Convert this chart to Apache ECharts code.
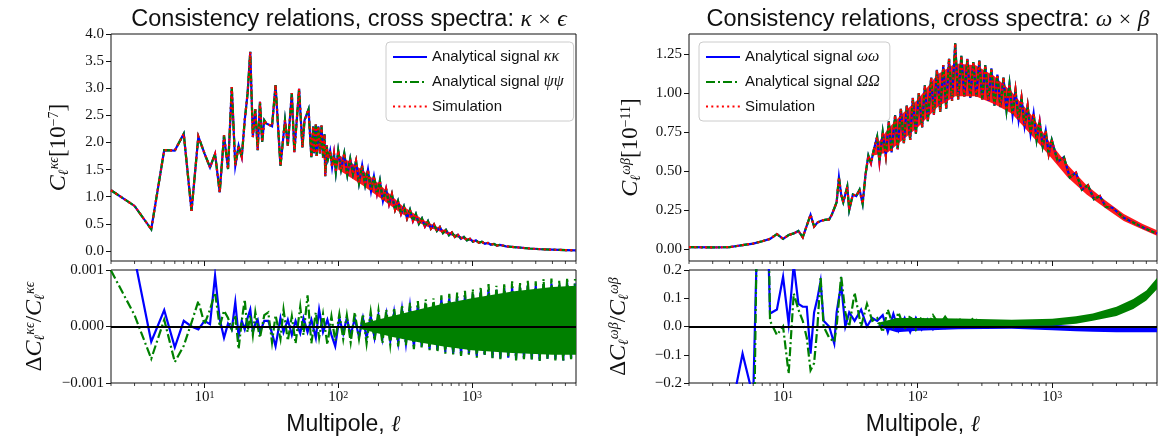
<!DOCTYPE html>
<html><head><meta charset="utf-8">
<script src="https://cdn.jsdelivr.net/npm/echarts@6/dist/echarts.min.js"></script>
<style>html,body{margin:0;padding:0;background:#fff}#c{width:1165px;height:439px}</style>
</head><body><div id="c"></div><script>
// ---------------- DATA ----------------
// Top-left: C_l^{kappa eps} in units of 1e-7 (the three curves overlap within the picture)
const tlL = [2,3,4,5,6,7,8,9,10,11,12,13,14,15,16,17,18,19,20,21,22,23,24,25,26,27,28,29,30,
  32,34,37,40,42,45,47,51,54,56,60,63,
  65,66,68,69,71,73,75,77,79,80,82,84,87,90,93,96,
  100,105,111,117,123,129,136,143,151,159,167,176,185,195,205,216,228,240,252,266,280,295,310,327,344,362,381,401,423,445,469,493,520,547,576,607,639,673,708,746,785,827,871,917,966,1017,1071,1128,1187,1250,1317,1386,1460,1537,1619,
  1800,2200,2700,3300,4000,5000,6000];
const tlC = [1.12,0.83,0.40,1.86,1.85,2.16,0.74,2.11,1.80,1.54,1.79,1.08,2.13,1.51,3.02,1.57,1.94,1.73,2.41,2.90,3.67,2.10,2.61,1.86,2.75,2.01,2.41,2.35,2.38,
  2.30,3.06,1.57,2.41,1.94,2.91,1.82,2.99,1.91,2.41,2.61,1.73,
  2.30,1.80,2.33,1.75,2.30,1.80,2.31,1.72,2.15,1.38,1.95,1.70,1.85,1.55,1.80,1.45,
  1.85,1.50,1.80,1.40,1.70,1.42,1.66,1.25,1.58,1.22,1.50,1.10,1.38,1.05,1.30,0.92,1.15,0.86,1.05,0.76,0.92,0.68,0.82,0.60,0.76,0.55,0.68,0.50,0.60,0.45,0.55,0.41,0.49,0.37,0.44,0.33,0.39,0.29,0.34,0.26,0.30,0.225,0.26,0.195,0.225,0.17,0.195,0.15,0.17,0.132,0.148,0.115,0.13,0.10,0.112,
  0.085,0.065,0.045,0.032,0.024,0.016,0.011];
const tlBandL  = [100,150,200,300,450,600,800,1000,1300,1600];
const tlBandLo = [1.50,1.22,1.00,0.68,0.46,0.34,0.24,0.18,0.13,0.10];
const tlBandHi = [1.78,1.50,1.25,0.84,0.55,0.40,0.28,0.21,0.15,0.115];

// Top-right: C_l^{omega beta} in units of 1e-11
const trL = [2,3,4,5,6,7,8,9,10,11,12,13,14,15,16,17,18,19,20,21,22,23,24,25,26,27,28,
  30,31,33,35,37,39,41,43,45,
  47,50,52,55,58,61,64,68,71,75,79,83,88,92,97,102,108,113,119,126,132,139,147,155,163,171,180,190,200,211,222,234,246,259,273,287,302,318,335,353,372,391,412,434,457,481,507,533,562,591,623,656,690,727,765,806,849,894,941,991,
  1100,1220,1350,1500,1660,1840,2040,2260,2500,2800,3400,4000,4700,5400,6000];
const trC = [0.012,0.010,0.012,0.025,0.035,0.050,0.065,0.096,0.065,0.090,0.100,0.116,0.075,0.150,0.220,0.145,0.170,0.180,0.185,0.188,0.190,0.220,0.260,0.300,0.460,0.350,0.300,
  0.400,0.250,0.350,0.340,0.380,0.290,0.480,0.600,0.550,
  0.63,0.72,0.56,0.75,0.60,0.82,0.62,0.86,0.64,0.90,0.68,0.92,0.70,0.97,0.74,1.00,0.78,1.05,0.82,1.10,0.86,1.15,0.88,1.18,0.90,1.22,0.95,1.32,0.96,1.24,0.98,1.22,0.97,1.20,0.98,1.21,0.96,1.18,0.95,1.16,0.92,1.12,0.91,1.10,0.89,1.06,0.86,1.02,0.83,0.97,0.79,0.92,0.74,0.87,0.70,0.82,0.66,0.76,0.61,0.70,
  0.56,0.59,0.46,0.49,0.38,0.41,0.32,0.34,0.27,0.265,0.20,0.17,0.14,0.115,0.10];
const trBandL  = [47,60,75,100,140,190,270,370,500,700,950,1300,1800,2500,3400,4700,6000];
const trBandLo = [0.60,0.62,0.69,0.78,0.91,0.98,0.98,0.93,0.87,0.73,0.60,0.46,0.35,0.26,0.18,0.125,0.085];
const trBandHi = [0.64,0.77,0.86,0.96,1.12,1.19,1.18,1.11,1.01,0.86,0.69,0.54,0.41,0.31,0.225,0.16,0.12];

// Bottom-left: Delta C / C in units of 1e-3
const blL      = [2,3,4,5,6,7,8,9,10,11,12,13,14,15,16,17,18,19,20,21,22,23,24,25,26,28];
const blBlueV  = [2.5,1.21,-0.27,0.29,-0.37,0.10,0.0,-0.05,0.10,0.04,0.90,0.13,-0.20,0.05,-0.05,0.43,-0.17,0.10,-0.05,0.15,0.30,-0.10,0.05,0.12,-0.10,0.10];
const blGreenV = [0.99,0.20,-0.57,0.12,-0.63,-0.34,0.07,0.45,0.04,0.30,0.60,0.0,0.28,0.15,-0.05,0.20,-0.40,0.10,0.48,-0.10,0.20,-0.15,0.25,0.0,-0.20,0.20];
const blNoiseL = [30,32,34,37,39,42,45,48,52,55,59,63,68,72,77,83,89,95,102,109,116,124,133,143,153,163,175,187,200,214,229,245,262,281,300,321,344,368,394,421,451,482,516,552,591,632,677,724,775,829,887,949,1016,1087,1163,1244,1331,1425,1524,1631,1745,1868,1998,2138,2288,2448,2619,2803,2999,3209,3433,3674,3931,4206,4500,4815,5152,5513,5899];
const blGreenNoise = [0.25,-0.28,0.20,-0.22,0.30,-0.25,0.18,-0.30,0.35,-0.15,0.55,-0.30,0.25,-0.20,0.22,-0.32,0.18,-0.25,0.22,-0.22,0.20,-0.28,0.25,-0.22,0.22,-0.30,0.26,-0.25,0.28,-0.30,0.30,-0.32,0.33,-0.35,0.38,-0.33,0.42,-0.40,0.45,-0.38,0.48,-0.42,0.50,-0.45,0.55,-0.48,0.58,-0.50,0.60,-0.52,0.63,-0.50,0.66,-0.55,0.70,-0.52,0.75,-0.56,0.72,-0.58,0.76,-0.55,0.80,-0.60,0.78,-0.58,0.82,-0.60,0.80,-0.62,0.84,-0.58,0.85,-0.60,0.82,-0.62,0.86,-0.58,0.84];
const blBlueNoise  = [0.10,-0.12,-0.35,0.15,-0.10,0.12,-0.15,0.10,-0.12,0.15,-0.10,0.12,-0.20,0.30,-0.10,0.12,-0.15,-0.35,0.15,-0.12,0.15,-0.15,0.14,-0.18,0.15,-0.20,0.18,-0.20,0.20,-0.22,0.22,-0.25,0.25,-0.28,0.30,
  -0.30,0.35,-0.35,0.38,-0.35,0.40,-0.40,0.42,-0.42,0.48,-0.45,0.50,-0.48,0.52,-0.50,0.55,-0.48,0.58,-0.52,0.62,-0.50,0.65,-0.55,0.65,-0.56,0.68,-0.55,0.70,-0.58,0.70,-0.56,0.74,-0.58,0.72,-0.60,0.75,-0.57,0.76,-0.58,0.74,-0.60,0.78,-0.56,0.76];
const blBandL  = [150,250,400,600,1000,2000,4000,6000];
const blBandLo = [-0.05,-0.18,-0.28,-0.35,-0.42,-0.47,-0.50,-0.50];
const blBandHi = [0.05,0.18,0.30,0.40,0.50,0.62,0.70,0.72];

// Bottom-right: Delta C / C
const brL      = [2,3,4,5,6,7,8,9,10,11,12,13,14,15,16,17,18,19,20,22,24,25,27,29,31,34,38,42,46,50];
const brBlueV  = [-0.6,-0.45,-0.33,-0.096,-0.25,1.07,0.046,0.06,0.176,0.01,0.22,0.08,0.07,0.07,-0.096,0.05,0.10,0.16,0.02,0.0,-0.06,0.05,0.15,0.0,0.05,0.02,0.06,0.0,0.03,0.02];
const brGreenV = [-0.8,-0.9,-0.7,-0.5,-0.6,1.75,0.02,-0.03,0.0,-0.167,0.117,0.06,0.02,-0.04,-0.155,-0.13,0.0,0.176,0.0,-0.04,-0.055,0.0,0.18,0.05,0.0,0.12,0.0,0.08,0.02,0.03];
const brNoiseL = [55,60,66,72,80,88,97,107,118,130,145,160,180,200,230,260,300];
const brGreenNoise = [-0.02,0.06,0.0,0.05,-0.01,0.04,-0.01,0.035,0.0,0.04,0.005,0.035,0.0,0.03,0.005,0.03,0.01];
const brBlueNoise  = [0.04,-0.02,0.045,-0.015,0.03,-0.02,0.03,-0.01,0.025,-0.01,0.02,-0.005,0.02,0.0,0.015,0.0,0.012];
const brBandL   = [50,70,100,200,500,1000,1500,2000,3000,4000,5000,6000];
const brGreenLo = [0.010,-0.005,-0.003,0.000,0.002,0.003,0.010,0.020,0.037,0.062,0.092,0.132];
const brGreenHi = [0.012,0.030,0.030,0.028,0.024,0.027,0.036,0.046,0.070,0.097,0.127,0.172];
const brBlueLo  = [0.000,-0.020,-0.015,-0.010,-0.008,-0.013,-0.017,-0.019,-0.020,-0.020,-0.020,-0.020];
const brBlueHi  = [0.002,0.030,0.025,0.020,0.012,0.006,0.002,0.000,-0.002,-0.002,-0.003,-0.003];

// tick values and labels
const xMajor = [10,100,1000];
const xMinor = [2,3,4,5,6,7,8,9,20,30,40,50,60,70,80,90,200,300,400,500,600,700,800,900,2000,3000,4000,5000,6000];
const tlTicks = [0,0.5,1,1.5,2,2.5,3,3.5,4];
const tlTickLabels = ['0.0','0.5','1.0','1.5','2.0','2.5','3.0','3.5','4.0'];
const trTicks = [0,0.25,0.5,0.75,1,1.25];
const trTickLabels = ['0.00','0.25','0.50','0.75','1.00','1.25'];
const blTicks = [-1,0,1];
const blTickLabels = ['\u22120.001','0.000','0.001'];
const brTicks = [-0.2,-0.1,0,0.1,0.2];
const brTickLabels = ['\u22120.2','\u22120.1','0.0','0.1','0.2'];

// ---------------- CHART ----------------
const SERIF = 'Liberation Serif', SANS = 'Liberation Sans';
const BLUE  = {color:'#0000ff', width:2.2, type:'solid'};
const GREEN = {color:'#008000', width:2.2, type:[9,3,2,3]};
const RED   = {color:'#ff0000', width:2.2, type:[2,3.3]};
const INK = '#111';

const pairs = (L, V) => L.map((l, i) => [l, V[i]]);
const concat = (a, b) => a.concat(b);

const grids = [
  {left:111, top:34,  width:465, height:227},
  {left:111, top:270, width:465, height:113},
  {left:689, top:34,  width:468, height:227},
  {left:689, top:270, width:468, height:113}
].map(g => Object.assign(g, {show:true, borderColor:INK, borderWidth:1, backgroundColor:'transparent'}));
const yMins = [-0.185, -1, -0.077, -0.2];
const yMaxs = [4.0, 1, 1.38, 0.2];

const mathRich = {
  c:  {fontFamily:SERIF, fontStyle:'italic', fontSize:24, color:INK},
  s:  {fontFamily:SERIF, fontStyle:'italic', fontSize:14, color:INK, verticalAlign:'bottom'},
  p:  {fontFamily:SERIF, fontStyle:'italic', fontSize:14, color:INK, verticalAlign:'top'},
  n:  {fontFamily:SERIF, fontSize:23, color:INK},
  q:  {fontFamily:SERIF, fontSize:14, color:INK, verticalAlign:'top'}
};

function xAxis(gi, showLabels) {
  return {type:'log', logBase:10, min:2, max:6000, gridIndex:gi, position:'bottom', splitLine:{show:false},
    axisLine:{show:false, onZero:false},
    axisTick:{show:true, inside:false, length:5, lineStyle:{color:INK, width:1}, customValues:xMajor},
    axisLabel:{show:true, customValues:xMajor, margin:7,
      formatter: v => showLabels ? '{b|10}{e|' + Math.round(Math.log10(v)) + '}' : '',
      rich:{b:{fontFamily:SERIF, fontSize:15, color:INK}, e:{fontFamily:SERIF, fontSize:10, color:INK, verticalAlign:'top'}}},
    name: showLabels ? 'Multipole, {l|\u2113}' : '', nameLocation:'middle', nameGap:30,
    nameTextStyle:{fontFamily:SANS, fontSize:23, color:INK,
      rich:{l:{fontFamily:SERIF, fontStyle:'italic', fontSize:23, color:INK}}}
  };
}

function yAxis(gi, ticks, labels, name, gap) {
  return {type:'value', gridIndex:gi, min:yMins[gi], max:yMaxs[gi], splitLine:{show:false},
    axisLine:{show:false, onZero:false},
    axisTick:{show:true, inside:false, length:5, lineStyle:{color:INK, width:1}, customValues:ticks},
    axisLabel:{customValues:ticks, margin:7, fontFamily:SERIF, fontSize:15, color:INK,
      formatter: v => { const i = ticks.findIndex(t => Math.abs(t - v) < 1e-9); return i >= 0 ? labels[i] : ''; }},
    name, nameLocation:'middle', nameRotate:90, nameGap:gap,
    nameTextStyle:{rich:mathRich}
  };
}

// minor ticks of the log axes (2..9 x 10^n), placed through the axis scale
function minorTicks(gi) {
  return {type:'custom', xAxisIndex:gi, yAxisIndex:gi, silent:true, clip:false, z:10, animation:false,
    data: xMinor.map(v => [v, yMins[gi]]),
    renderItem: (params, api) => {
      const c = api.coord([api.value(0), api.value(1)]);
      return {type:'line', shape:{x1:c[0], y1:c[1], x2:c[0], y2:c[1] + 3}, style:{stroke:INK, lineWidth:0.8}};
    }};
}

function line(name, gi, data, style, z) {
  return {type:'line', name, xAxisIndex:gi, yAxisIndex:gi, data, symbol:'none', showSymbol:false,
    lineStyle:Object.assign({}, style, {cap:'butt', join:'miter'}), itemStyle:{color:style.color},
    z, clip:true, animation:false, silent:true};
}

function band(gi, L, lo, hi, color, z) {
  return {type:'custom', xAxisIndex:gi, yAxisIndex:gi, z, silent:true, clip:true, animation:false,
    data:[[L[0], lo[0]]],
    renderItem: (params, api) => {
      const pts = [];
      for (let i = 0; i < L.length; i++) pts.push(api.coord([L[i], hi[i]]));
      for (let i = L.length - 1; i >= 0; i--) pts.push(api.coord([L[i], lo[i]]));
      return {type:'polygon', shape:{points:pts}, style:{fill:color}};
    }};
}

const zeroLine = {silent:true, symbol:'none', label:{show:false}, animation:false,
  lineStyle:{color:'#000', width:2, type:'solid'}, data:[{yAxis:0}]};

const series = [
  // top-left
  band(0, tlBandL, tlBandLo, tlBandHi, '#ff1a1a', 1),
  line('Analytical signal \u03ba\u03ba', 0, pairs(tlL, tlC), BLUE, 2),
  line('Analytical signal \u03c8\u03c8', 0, pairs(tlL, tlC), GREEN, 3),
  line('Simulation', 0, pairs(tlL, tlC), RED, 4),
  // bottom-left
  line('bl-blue', 1, concat(pairs(blL, blBlueV), pairs(blNoiseL, blBlueNoise)), BLUE, 2),
  band(1, blBandL, blBandLo, blBandHi, '#008000', 3),
  Object.assign(line('bl-green', 1, concat(pairs(blL, blGreenV), pairs(blNoiseL, blGreenNoise)), GREEN, 4), {markLine:zeroLine}),
  // top-right
  band(2, trBandL, trBandLo, trBandHi, '#ff1a1a', 1),
  line('Analytical signal \u03c9\u03c9', 2, pairs(trL, trC), BLUE, 2),
  line('Analytical signal \u03a9\u03a9', 2, pairs(trL, trC), GREEN, 3),
  line('Simulation', 2, pairs(trL, trC), RED, 4),
  // bottom-right
  band(3, brBandL, brBlueLo, brBlueHi, '#0000ff', 1),
  line('br-blue', 3, concat(pairs(brL, brBlueV), pairs(brNoiseL, brBlueNoise)), BLUE, 2),
  band(3, brBandL, brGreenLo, brGreenHi, '#008000', 3),
  Object.assign(line('br-green', 3, concat(pairs(brL, brGreenV), pairs(brNoiseL, brGreenNoise)), GREEN, 4), {markLine:zeroLine}),
  minorTicks(0), minorTicks(1), minorTicks(2), minorTicks(3)
];

function legend(names, left) {
  return {data:names, orient:'vertical', left, top:42, itemWidth:34, itemHeight:12, itemGap:9,
    padding:[7,10,7,6], borderColor:'#cccccc', borderWidth:1, borderRadius:4,
    backgroundColor:'rgba(255,255,255,0.85)', selectedMode:false,
    itemStyle:{opacity:0, borderWidth:0},
    textStyle:{fontFamily:SANS, fontSize:15, color:INK,
      rich:{m:{fontFamily:SERIF, fontStyle:'italic', fontSize:16, color:INK}}},
    formatter: n => n.startsWith('Analytical') ? n.replace(/ (\S+)$/, ' {m|$1}') : n};
}

const titleStyle = {fontFamily:SANS, fontSize:23.5, fontWeight:'normal', color:INK,
  rich:{m:{fontFamily:SERIF, fontStyle:'italic', fontSize:23.5, color:INK}, x:{fontFamily:SERIF, fontSize:22, color:INK}}};

const option = {
  animation:false,
  backgroundColor:'#fff',
  title:[
    {text:'Consistency relations, cross spectra: {m|\u03ba} {x|\u00d7} {m|\u03f5}', left:344, top:3, textAlign:'center', textStyle:titleStyle},
    {text:'Consistency relations, cross spectra: {m|\u03c9} {x|\u00d7} {m|\u03b2}', left:923, top:3, textAlign:'center', textStyle:titleStyle}
  ],
  legend:[
    legend(['Analytical signal \u03ba\u03ba','Analytical signal \u03c8\u03c8','Simulation'], 386),
    legend(['Analytical signal \u03c9\u03c9','Analytical signal \u03a9\u03a9','Simulation'], 699)
  ],
  grid: grids,
  xAxis: [xAxis(0,false), xAxis(1,true), xAxis(2,false), xAxis(3,true)],
  yAxis: [
    yAxis(0, tlTicks, tlTickLabels, '{c|C}{s|\u2113}{p|\u03ba\u03f5}{n|[10}{q|\u22127}{n|]}', 40),
    yAxis(1, blTicks, blTickLabels, '{n|\u0394}{c|C}{s|\u2113}{p|\u03ba\u03f5}{n|/}{c|C}{s|\u2113}{p|\u03ba\u03f5}', 64),
    yAxis(2, trTicks, trTickLabels, '{c|C}{s|\u2113}{p|\u03c9\u03b2}{n|[10}{q|\u221211}{n|]}', 46),
    yAxis(3, brTicks, brTickLabels, '{n|\u0394}{c|C}{s|\u2113}{p|\u03c9\u03b2}{n|/}{c|C}{s|\u2113}{p|\u03c9\u03b2}', 58)
  ],
  series
};

const chart = echarts.init(document.getElementById('c'), null, {renderer:'canvas'});
chart.setOption(option);
</script></body></html>
